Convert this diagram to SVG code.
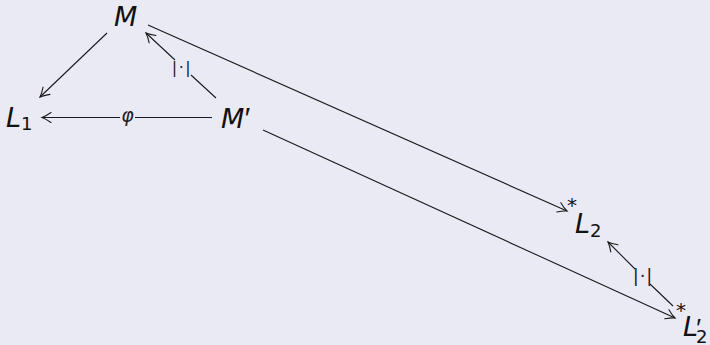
<svg xmlns="http://www.w3.org/2000/svg" width="710" height="345" viewBox="0 0 710 345">
<defs>
<marker id="ah" viewBox="-11 -6 13 12" markerWidth="13" markerHeight="12" refX="0" refY="0" orient="auto" markerUnits="userSpaceOnUse">
<path d="M-9,-5 Q-3.5,-1.2 0,0 Q-3.5,1.2 -9,5" fill="none" stroke="#1a1a1a" stroke-width="1.1" stroke-linecap="round"/>
</marker>
<style>
.t{font-family:"DejaVu Sans","Liberation Sans",sans-serif;font-style:italic;fill:#111;}
.big{font-size:27px;}
.sub{font-size:18px;font-style:normal;}
.pr{font-family:"Liberation Sans","DejaVu Sans",sans-serif;font-style:italic;fill:#111;}
.star{font-family:"DejaVu Sans","Liberation Sans",sans-serif;font-size:20px;fill:#111;}
.lbl{font-family:"DejaVu Sans","Liberation Sans",sans-serif;fill:#222;text-anchor:middle;}
.e{fill:none;stroke:#1a1a1a;stroke-width:1.1;marker-end:url(#ah);}
</style>
</defs>
<rect width="710" height="345" fill="#eaeaf4"/>
<g id="connectors">
<path class="e" d="M107,33 L40,97"/>
<path class="e" d="M212,117.5 H135 M120,117.5 H42"/>
<path class="e" d="M216,98 L191,75 M175,60 L146,33"/>
<path class="e" d="M148,25 L567,211"/>
<path class="e" d="M263,130 L675,318"/>
<path class="e" d="M673,306 L650,284 M635,269 L608,242"/>
<text class="lbl" x="127.5" y="122" style="font-style:italic;font-size:19px">φ</text>
<text class="lbl" x="182" y="72.5" style="font-size:16px;letter-spacing:1.5px">|·|</text>
<text class="lbl" x="643" y="281.5" style="font-size:18px;letter-spacing:0.8px">|·|</text>
</g>
<g id="M"><text class="t big" x="114" y="26">M</text></g>
<g id="L1"><text class="t big" x="6" y="127">L</text><text class="t sub" x="21" y="130">1</text></g>
<g id="Mp"><text class="t big" x="221" y="128">M<tspan class="pr" dx="-1" font-size="30">′</tspan></text></g>
<g id="L2star"><text class="star" x="567" y="212">*</text><text class="t big" x="575" y="233">L</text><text class="t sub" x="590" y="237">2</text></g>
<g id="L2pstar"><text class="star" x="676" y="317">*</text><text class="t big" x="683" y="336">L<tspan class="pr" x="695" y="337" font-size="26">′</tspan></text><text class="t sub" x="696" y="343">2</text></g>
</svg>
